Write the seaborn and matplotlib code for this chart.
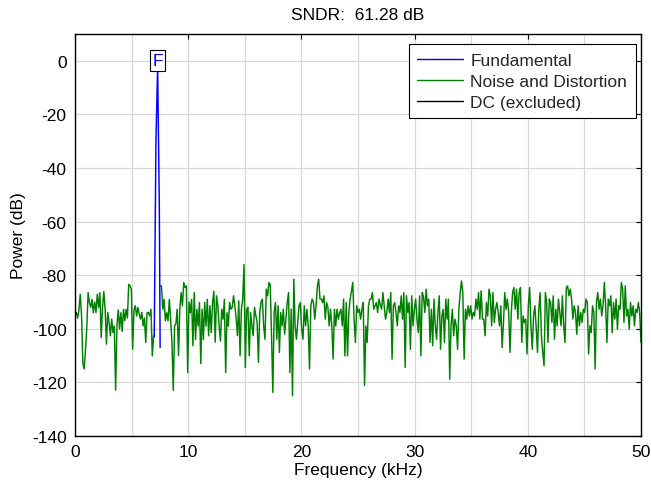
import numpy as np
import pandas as pd
import matplotlib
matplotlib.use("Agg")
import matplotlib.pyplot as plt
from matplotlib.lines import Line2D
from matplotlib.ticker import MultipleLocator
import seaborn as sns

# Spectrum of the sampled tone, 0..50 kHz in 432 bins
n_bins = 433
f_max_khz = 50.0
sndr_db = 61.28

# DC bins (excluded from the SNDR computation)
dc_db = [-95.0, -94.0]

# Noise and distortion bins below the fundamental (bins 1..60)
noise_low = [
    -94, -96, -93, -87.1, -95, -113, -115, -108, -99.5, -86.5,
    -90.2, -92, -89, -94, -90, -93.9, -87.1, -92, -86.5, -103.2,
    -92, -86.1, -92.7, -105.7, -93.9, -97.6, -102.6, -96.4, -101.4, -99,
    -122.9, -99, -93, -100, -94, -101, -92.7, -97, -92.7, -96,
    -83.4, -84, -85.2, -107.6, -93, -91.4, -95.2, -92, -94.5, -96.4,
    -93.9, -98.9, -96, -105.1, -94, -93.9, -95.2, -92.7, -110.1, -102.6,
]

# Fundamental
fund_khz = [7.0, 7.15, 7.3, 7.45, 7.52]
fund_db = [-103.0, -30.0, -2.2, -55.0, -107.0]

# Noise and distortion bins above the fundamental (bins 65..432)
noise_high = [
    -84, -84, -92.7, -89, -97, -94, -97, -89, -96.4, -105,
    -123, -99, -98, -92.7, -110, -92.7, -86.5, -91.4, -82.7, -84.6,
    -84, -116.3, -90, -94, -89, -106.3, -86.5, -104, -92.7, -99,
    -90.2, -113, -92.7, -104, -90.2, -99, -89, -102.6, -91.4, -101.4,
    -90.2, -86, -105, -87.7, -91.4, -99, -104.6, -92.7, -96.4, -89,
    -116.3, -94, -99, -90.2, -92.7, -92, -87.7, -91.4, -96, -102.6,
    -89.6, -110.1, -92.7, -88.9, -76, -114.4, -92.7, -92, -110.1, -93.9,
    -98.9, -102.6, -92, -95, -97.6, -112.5, -94, -90, -88.9, -98.9,
    -103.9, -85.2, -87.7, -82.7, -83.5, -102.6, -123.7, -93.9, -90.2, -103.9,
    -91.4, -108.8, -93.9, -98.9, -92.7, -102, -96, -90.2, -86.5, -116.3,
    -92.7, -125, -81.5, -98.9, -103.9, -97.6, -91.4, -90.2, -100.1, -103.9,
    -91.4, -98.9, -92.7, -98.9, -115, -91.4, -88.9, -90.2, -96.4, -91.4,
    -84, -81.5, -88.9, -88.9, -90.2, -87.7, -96.4, -90.2, -92, -98.9,
    -92.7, -98.9, -111.3, -92.7, -98.9, -92.7, -96.4, -94, -92.7, -98.9,
    -88.9, -110.1, -90.2, -110.1, -93.9, -88.9, -86, -82.7, -96.4, -105.1,
    -91.4, -93.9, -92.7, -96.4, -92.7, -90.2, -121.2, -98.9, -105.1, -91.4,
    -89, -88.9, -86.5, -92.7, -91.4, -90.2, -93.9, -88.9, -91, -92.7,
    -86.5, -91.4, -96.4, -93.9, -88.9, -93.9, -86.5, -111.3, -91.4, -90.2,
    -93.9, -98.9, -91.4, -93.9, -87.7, -96.4, -86.5, -114.4, -87.7, -93.9,
    -90.2, -107.6, -87.7, -98.9, -92.7, -88.9, -96.4, -101.4, -87.7, -110.1,
    -86.5, -88, -93.9, -85.2, -91.4, -88.9, -105.1, -92.7, -106.3, -88.9,
    -98.9, -103.9, -93.9, -87.7, -107.6, -95.2, -92.7, -105.1, -88.9, -96.4,
    -88.9, -118.8, -98.9, -92.7, -102.6, -96.4, -98.9, -107.6, -92.7, -86.5,
    -82.1, -86.5, -111.3, -92.7, -96.4, -91.4, -95.2, -91.4, -96.4, -93.9,
    -95.2, -88.9, -92.7, -86.5, -96.4, -85.8, -96.4, -96.4, -102.6, -90.2,
    -95.2, -85.2, -87.7, -98.9, -86.5, -97.6, -92.7, -90.2, -93.9, -98.9,
    -91.4, -107, -98, -86.5, -92.7, -88.9, -93.9, -108.8, -93.9, -86.5,
    -84.6, -92.7, -85.2, -96.4, -86.5, -84.6, -105.1, -95.2, -97.6, -96.4,
    -109.4, -91.4, -84.6, -98.9, -107.6, -95.2, -91.4, -99.5, -108.8, -92.7,
    -86.5, -102.6, -108.8, -113.8, -86.5, -90.2, -105.1, -88.9, -90.2, -97.6,
    -87.7, -103.9, -92.7, -98.9, -88.9, -93.9, -98.9, -87.7, -98.9, -105.1,
    -84.6, -84, -87.7, -85.2, -88.9, -96.4, -91.4, -93.9, -102, -91.4,
    -98.9, -93.9, -97.6, -92.7, -93.9, -88.9, -90.2, -109.4, -98.9, -101.4,
    -91.4, -93.9, -115, -90, -86.5, -92.7, -88.9, -95.2, -91.4, -82.7,
    -91.4, -105.1, -88.9, -91.4, -87.7, -101.4, -90.2, -96.4, -88.9, -100.1,
    -91.4, -92.7, -82.7, -85.2, -97.6, -84, -95.2, -92.7, -100.1, -90.2,
    -95.2, -91.4, -98.9, -92.7, -93.9, -90.2, -93.9, -105.1,
]

legend_labels = ["Fundamental", "Noise and Distortion", "DC (excluded)"]
line_colors = {"Fundamental": "#0000ff",
               "Noise and Distortion": "#008000",
               "DC (excluded)": "#000000"}

bins_khz = np.linspace(0.0, f_max_khz, n_bins)

parts = [
    ("Noise and Distortion", "low", bins_khz[1:1 + len(noise_low)], noise_low),
    ("Noise and Distortion", "high", bins_khz[65:65 + len(noise_high)], noise_high),
    ("Fundamental", "fund", np.asarray(fund_khz), fund_db),
    ("DC (excluded)", "dc", bins_khz[:len(dc_db)], dc_db),
]
df = pd.concat(
    [pd.DataFrame({"freq": f, "power": v, "component": c, "segment": s})
     for c, s, f, v in parts],
    ignore_index=True,
)

sns.set_theme(style="white")
plt.rcParams["font.family"] = ["Liberation Sans", "DejaVu Sans"]
plt.rcParams["axes.unicode_minus"] = False

fs = 12.5

fig = plt.figure(figsize=(6.51, 4.85), dpi=100)
ax = fig.add_axes([75 / 651, 1 - 437 / 485, 566 / 651, 402 / 485])

sns.lineplot(data=df, x="freq", y="power", hue="component", units="segment",
             estimator=None, palette=line_colors, linewidth=1.05,
             sort=False, legend=False, ax=ax)

# label on the fundamental peak
k_peak = int(np.argmax(fund_db))
ax.annotate("F", xy=(fund_khz[k_peak], fund_db[k_peak]), xytext=(0, -1.0),
            textcoords="offset points", ha="center", va="bottom",
            color="#0000ff", fontsize=fs,
            bbox=dict(boxstyle="square,pad=0.15", fc="white", ec="black", lw=0.8))

ax.set_xlim(0, f_max_khz)
ax.set_ylim(-140, 10)
ax.xaxis.set_major_locator(MultipleLocator(10))
ax.xaxis.set_minor_locator(MultipleLocator(5))
ax.yaxis.set_major_locator(MultipleLocator(20))
ax.grid(True, which="both", axis="x", color="#d8d8d8", linewidth=0.9)
ax.grid(True, which="major", axis="y", color="#d8d8d8", linewidth=0.9)
ax.set_axisbelow(True)

ax.tick_params(which="major", direction="in", length=3.5, width=0.8,
               top=True, right=True, labelsize=fs, colors="black", pad=6)
ax.tick_params(which="minor", length=0)
for sp in ax.spines.values():
    sp.set_color("black")
    sp.set_linewidth(1.0)

ax.set_xlabel("Frequency (kHz)", fontsize=fs, color="black", labelpad=2)
ax.set_ylabel("Power (dB)", fontsize=fs, color="black", labelpad=4)
ax.set_title(f"SNDR:  {sndr_db:.2f} dB", fontsize=fs, color="black", pad=11)

handles = [Line2D([], [], color=line_colors[k], lw=1.0) for k in legend_labels]
leg = ax.legend(handles, legend_labels, loc="upper right",
                bbox_to_anchor=(0.991, 0.975), fontsize=fs, frameon=True,
                fancybox=False, framealpha=1, edgecolor="black",
                handlelength=2.6, handletextpad=0.45, labelspacing=0.33,
                borderpad=0.5, borderaxespad=0.0)
leg.get_frame().set_linewidth(0.8)

fig.savefig("out.png", dpi=100)
